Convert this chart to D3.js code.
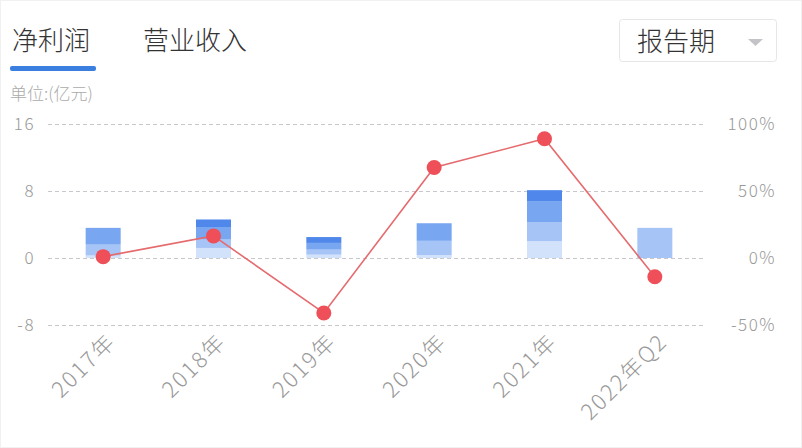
<!DOCTYPE html>
<html>
<head>
<meta charset="utf-8">
<script src="https://cdn.jsdelivr.net/npm/d3@7"></script>
<style>
  html, body { margin: 0; padding: 0; background: #fff; }
  svg { display: block; font-family: "Noto Sans CJK SC", "Noto Sans", sans-serif; font-weight: 300; }
</style>
</head>
<body>
<svg id="chart" width="802" height="448"></svg>
<script>
// ===== Data =====
const periods = ['2017年', '2018年', '2019年', '2020年', '2021年', '2022年Q2'];
// quarterly net profit (亿元), stacked bottom → top
const q1 = [0.3, 1.2, 0.4, 0.35, 2.0, 0];
const q2 = [1.3, 1.0, 0.6, 1.7, 2.3, 3.6];
const q3 = [2.0, 1.5, 0.8, 2.1, 2.5, 0];
const q4 = [0.0, 0.9, 0.7, 0.0, 1.3, 0];
// year-on-year growth (%)
const growth = [1, 16.5, -41, 67.5, 89, -14];

const leftTicks = [-8, 0, 8, 16];
const rightTicks = [-50, 0, 50, 100];

const quarterKeys = ['q1', 'q2', 'q3', 'q4'];
const quarterColors = ['#d3e2fb', '#a6c4f6', '#78a6f1', '#4f88ea'];

// ===== Setup =====
const svg = d3.select('#chart');
const W = 802, H = 448;
const plotLeft = 48, plotRight = 710, plotTop = 124, plotBottom = 325;

svg.append('rect')
    .attr('x', 0.5).attr('y', 0.5)
    .attr('width', W - 1).attr('height', H - 1)
    .attr('fill', '#fff')
    .attr('stroke', '#f1f1f3');

// ===== Header: tabs, unit, dropdown =====
svg.append('text')
    .attr('x', 12).attr('y', 50)
    .attr('font-size', 26).attr('fill', '#333')
    .text('净利润');
svg.append('rect')
    .attr('x', 10).attr('y', 66)
    .attr('width', 86).attr('height', 5)
    .attr('rx', 2)
    .attr('fill', '#3a7fe0');
svg.append('text')
    .attr('x', 143).attr('y', 50)
    .attr('font-size', 26).attr('fill', '#333')
    .text('营业收入');

svg.append('text')
    .attr('x', 10).attr('y', 100)
    .attr('font-size', 17).attr('fill', '#aaa')
    .text('单位:(亿元)');

const dd = svg.append('g');
dd.append('rect')
    .attr('x', 619.5).attr('y', 19.5)
    .attr('width', 157).attr('height', 42)
    .attr('rx', 3)
    .attr('fill', '#fff')
    .attr('stroke', '#e6e6e8');
dd.append('text')
    .attr('x', 637).attr('y', 51)
    .attr('font-size', 26).attr('fill', '#333')
    .text('报告期');
dd.append('path')
    .attr('d', 'M 748 39 L 763 39 L 755.5 46 Z')
    .attr('fill', '#c4c4c8');

// ===== Scales =====
const x = d3.scaleBand()
    .domain(periods)
    .range([plotLeft, plotRight])
    .padding(0);
const barW = 35;
const cx = d => x(d) + x.bandwidth() / 2;

const yLeft = d3.scaleLinear()
    .domain([leftTicks[0], leftTicks[leftTicks.length - 1]])
    .range([plotBottom, plotTop]);
const yRight = d3.scaleLinear()
    .domain([rightTicks[0], rightTicks[rightTicks.length - 1]])
    .range([plotBottom, plotTop]);

// ===== Grid + axis labels =====
svg.append('g').selectAll('line')
    .data(leftTicks)
    .join('line')
    .attr('x1', plotLeft).attr('x2', 706)
    .attr('y1', d => yLeft(d) + 0.5).attr('y2', d => yLeft(d) + 0.5)
    .attr('stroke', '#c8c8cc')
    .attr('stroke-width', 1)
    .attr('stroke-dasharray', '4,3');

svg.append('g').selectAll('text')
    .data(leftTicks)
    .join('text')
    .attr('x', 35).attr('y', d => yLeft(d) + 6)
    .attr('text-anchor', 'end')
    .attr('font-size', 17).attr('fill', '#999')
    .attr('letter-spacing', 1.5)
    .text(d => d);

svg.append('g').selectAll('text')
    .data(rightTicks)
    .join('text')
    .attr('x', 776).attr('y', d => yRight(d) + 6)
    .attr('text-anchor', 'end')
    .attr('font-size', 17).attr('fill', '#999')
    .attr('letter-spacing', 1.5)
    .text(d => d + '%');

// x labels, rotated
svg.append('g').selectAll('text')
    .data(periods)
    .join('text')
    .attr('transform', d => `translate(${cx(d) + 14},${plotBottom + 18}) rotate(-45)`)
    .attr('text-anchor', 'end')
    .attr('font-size', 22).attr('fill', '#999')
    .attr('letter-spacing', 2)
    .text(d => d);

// ===== Stacked quarterly bars =====
const rows = periods.map((p, i) => ({ period: p, q1: q1[i], q2: q2[i], q3: q3[i], q4: q4[i] }));
const stacked = d3.stack().keys(quarterKeys)(rows);

svg.append('g').selectAll('g')
    .data(stacked)
    .join('g')
    .attr('fill', (d, i) => quarterColors[i])
    .selectAll('rect')
    .data(d => d.filter(s => s[1] - s[0] > 0))
    .join('rect')
    .attr('x', d => cx(d.data.period) - barW / 2)
    .attr('width', barW)
    .attr('y', d => yLeft(d[1]))
    .attr('height', d => yLeft(d[0]) - yLeft(d[1]));

// ===== Growth line =====
const line = d3.line()
    .x((d, i) => cx(periods[i]))
    .y(d => yRight(d));

svg.append('path')
    .datum(growth)
    .attr('d', line)
    .attr('fill', 'none')
    .attr('stroke', '#e56b6e')
    .attr('stroke-width', 1.6);

svg.append('g').selectAll('circle')
    .data(growth)
    .join('circle')
    .attr('cx', (d, i) => cx(periods[i]))
    .attr('cy', d => yRight(d))
    .attr('r', 7.5)
    .attr('fill', '#ee4f58');
</script>
</body>
</html>
